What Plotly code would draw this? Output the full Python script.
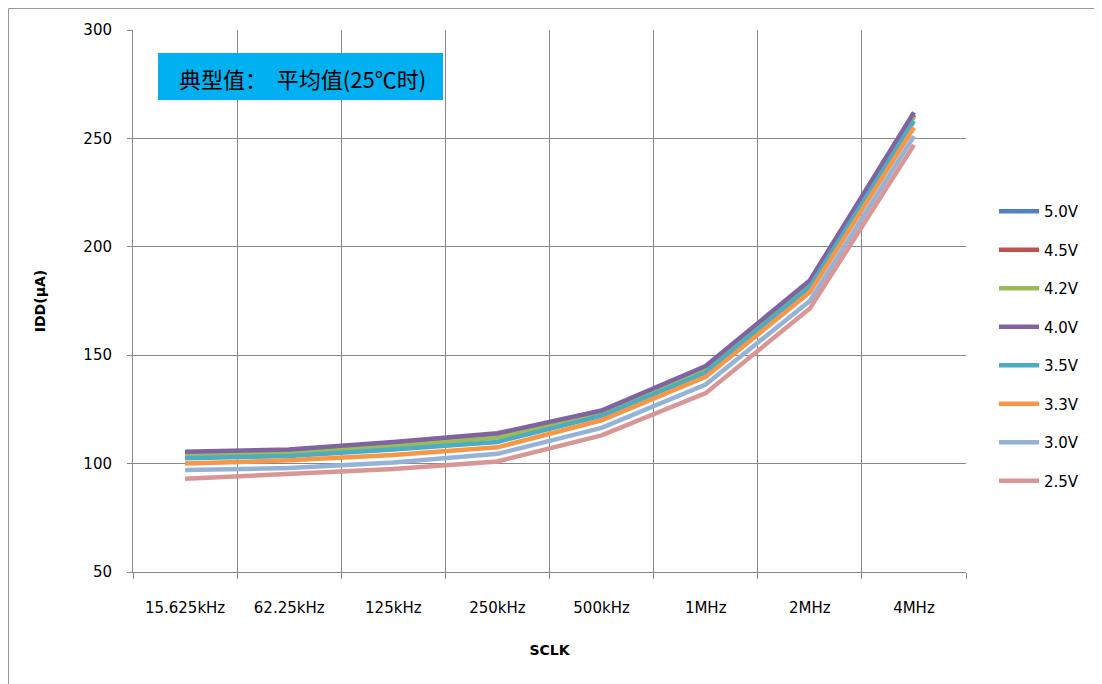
import plotly.graph_objects as go

categories = ["15.625kHz", "62.25kHz", "125kHz", "250kHz", "500kHz", "1MHz", "2MHz", "4MHz"]
series_names = ["5.0V", "4.5V", "4.2V", "4.0V", "3.5V", "3.3V", "3.0V", "2.5V"]
v50 = [105.0, 106.0, 109.5, 113.5, 124.0, 144.5, 184.0, 261.0]
v45 = [104.5, 105.5, 109.0, 113.0, 123.5, 144.0, 183.5, 260.5]
v42 = [104.0, 105.0, 108.0, 112.0, 123.0, 143.0, 183.0, 260.0]
v40 = [105.5, 106.5, 110.0, 114.0, 124.5, 145.0, 184.5, 262.0]
v35 = [102.5, 103.5, 106.5, 110.0, 122.0, 142.0, 181.5, 258.0]
v33 = [100.0, 101.5, 104.0, 107.5, 120.0, 140.0, 179.0, 255.0]
v30 = [97.0, 98.0, 100.5, 104.5, 116.5, 136.5, 175.0, 251.0]
v25 = [93.0, 95.0, 97.5, 101.0, 113.0, 132.5, 171.5, 247.0]
colors = ["#4F81BD", "#C0504D", "#9BBB59", "#8064A2", "#4BACC6", "#F79646", "#95B3D7", "#D99694"]
all_values = [v50, v45, v42, v40, v35, v33, v30, v25]

fig = go.Figure()
for i, (name, vals) in enumerate(zip(series_names, all_values)):
    fig.add_trace(go.Scatter(
        x=categories, y=vals, name=name, mode="lines",
        line=dict(color=colors[i], width=4.5),
        legendgroup=name,
    ))

OFF = 8  # page body margin
W, H = 1102 - OFF, 684 - OFF
L, R, T, B = 133 - OFF, 136, 30 - OFF, 112
pw, ph = W - L - R, H - T - B


def px(xabs):
    return (xabs - OFF - L) / pw


def py(yabs):
    return 1 - (yabs - OFF - T) / ph


grid = "#888888"
fig.update_layout(
    width=W, height=H,
    margin=dict(l=L, r=R, t=T, b=B),
    paper_bgcolor="white", plot_bgcolor="white",
    font=dict(family="DejaVu Sans", size=15, color="#000000"),
    showlegend=True,
    legend=dict(x=px(994), y=py(195), xanchor="left", yanchor="top",
                font=dict(size=15), tracegroupgap=16, itemwidth=40,
                bgcolor="rgba(0,0,0,0)"),
    xaxis=dict(type="category", tickson="boundaries", ticks="outside", ticklen=6,
               tickcolor=grid, showgrid=True, gridcolor=grid, gridwidth=1,
               showline=True, linecolor=grid, linewidth=1,
               range=[-0.5, 7.5], ticklabelstandoff=22,
               title=dict(text="<b>SCLK</b>", font=dict(size=14), standoff=29),
               tickfont=dict(size=15)),
    yaxis=dict(range=[50, 300], dtick=50, ticks="outside", ticklen=5, tickcolor=grid,
               showgrid=True, gridcolor=grid, gridwidth=1,
               showline=True, linecolor=grid, linewidth=1,
               ticklabelstandoff=12,
               title=dict(text="<b>IDD(μA)</b>", font=dict(size=14), standoff=34),
               tickfont=dict(size=15)),
)

# outer chart-area border (left and top edges visible)
fig.add_shape(type="line", xref="paper", yref="paper",
              x0=px(8.5), x1=px(8.5), y0=py(8.5), y1=py(700),
              line=dict(color="#9A9A9A", width=1))
fig.add_shape(type="line", xref="paper", yref="paper",
              x0=px(8.5), x1=px(1110), y0=py(8.5), y1=py(8.5),
              line=dict(color="#9A9A9A", width=1))

# label box
fig.add_shape(type="rect", xref="paper", yref="paper",
              x0=px(158), x1=px(443), y0=py(100), y1=py(53),
              fillcolor="#00B0F0", line=dict(width=0), layer="above")
fig.add_annotation(xref="paper", yref="paper", x=px(302), y=py(78),
                   text="典型值：&nbsp;&nbsp;平均值(25℃时)",
                   showarrow=False, font=dict(family="Noto Sans CJK SC", size=22, color="#000000"),
                   xanchor="center", yanchor="middle")

fig.write_html("out.html")
